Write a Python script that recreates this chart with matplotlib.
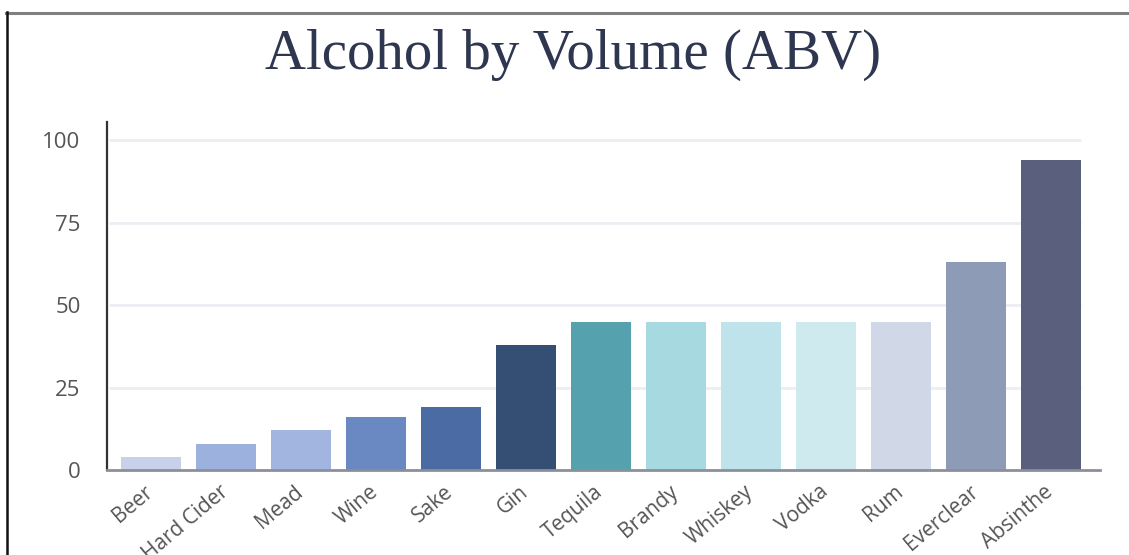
import matplotlib
matplotlib.use("Agg")
import matplotlib.pyplot as plt
from matplotlib.lines import Line2D
from matplotlib.transforms import ScaledTranslation

drinks = ["Beer", "Hard Cider", "Mead", "Wine", "Sake", "Gin", "Tequila",
          "Brandy", "Whiskey", "Vodka", "Rum", "Everclear", "Absinthe"]
abv = [4, 8, 12, 16, 19, 38, 45, 45, 45, 45, 45, 63, 94]
bar_colors = ["#c9d1ea", "#9db1df", "#a2b5e0", "#6a89c3", "#4b6ba4",
              "#344e74", "#55a2ae", "#a7d9e1", "#bfe3ea", "#cfeaee",
              "#d0d7e6", "#8e9bb7", "#5a5f7d"]
y_ticks = [0, 25, 50, 75, 100]
title = "Alcohol by Volume (ABV)"

W, H = 1129, 555
fig = plt.figure(figsize=(W / 100, H / 100), dpi=100)
fig.patch.set_facecolor("white")

# frame lines along the top and left edges
fig.add_artist(Line2D([6 / W, 1.0], [1 - 12.5 / H, 1 - 12.5 / H],
                      transform=fig.transFigure, color="#808080", lw=2.2))
fig.add_artist(Line2D([6.5 / W, 6.5 / W], [0, 1 - 12 / H],
                      transform=fig.transFigure, color="#111111", lw=1.8))

ax_left, ax_right = 107, 1100
ax_top, ax_bottom = 122, 470
ax = fig.add_axes([ax_left / W, 1 - ax_bottom / H,
                   (ax_right - ax_left) / W, (ax_bottom - ax_top) / H])

x = list(range(len(drinks)))
ax.bar(x, abv, width=0.8, color=bar_colors, zorder=3)

ax.set_xlim(-0.58, 12.66)
ax.set_ylim(0, 105.5)

for t in y_ticks[1:]:
    ax.plot([-0.55, 12.4], [t, t], color="#eceef3", lw=2.0, zorder=1,
            solid_capstyle="butt")

ax.set_yticks(y_ticks)
ax.set_yticklabels([str(v) for v in y_ticks], fontfamily="Open Sans",
                   fontsize=16, color="#555555")
ax.set_xticks(x)
ax.set_xticklabels(drinks, rotation=40, ha="right", va="center",
                   rotation_mode="anchor", fontfamily="Open Sans",
                   fontsize=15, color="#555555")
shift = ScaledTranslation(8 / 72, 0, fig.dpi_scale_trans)
for lbl in ax.get_xticklabels():
    lbl.set_transform(lbl.get_transform() + shift)
ax.tick_params(axis="y", length=0, pad=19)
ax.tick_params(axis="x", length=0, pad=14)

for side in ("top", "right"):
    ax.spines[side].set_visible(False)
ax.spines["left"].set_color("#333333")
ax.spines["left"].set_linewidth(1.6)
ax.spines["bottom"].set_color("#8a8f9a")
ax.spines["bottom"].set_linewidth(2.0)
ax.spines["bottom"].set_zorder(4)

fig.text(573 / W, 1 - 55 / H, title, ha="center", va="center",
         fontfamily="Liberation Serif", fontsize=41, color="#2e3650")

fig.savefig("out.png", dpi=100, facecolor="white")
